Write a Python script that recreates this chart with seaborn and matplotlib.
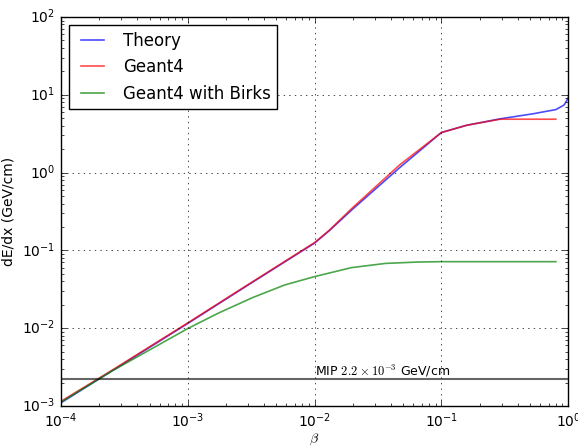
import numpy as np
import pandas as pd
import matplotlib
matplotlib.use("Agg")
import matplotlib.pyplot as plt
import seaborn as sns

# Werte (beta, dE/dx in GeV/cm)
theory_beta = [1e-4, 2.44e-4, 1e-3, 3e-3, 1e-2, 1.3e-2, 2e-2, 4.7e-2, 1e-1, 0.158, 0.29, 0.53, 0.8, 0.93, 0.977, 1.0]
theory_dedx = [1.1e-3, 2.73e-3, 1.15e-2, 3.6e-2, 0.124, 0.178, 0.34, 1.16, 3.27, 4.05, 4.9, 5.7, 6.45, 7.4, 8.5, 9.2]

geant_beta = [1e-4, 2.44e-4, 1e-3, 3e-3, 1e-2, 1.3e-2, 2e-2, 4.7e-2, 1e-1, 0.158, 0.29, 0.5, 0.8]
geant_dedx = [1.15e-3, 2.78e-3, 1.17e-2, 3.65e-2, 0.126, 0.18, 0.355, 1.26, 3.27, 4.05, 4.85, 4.85, 4.85]

birks_beta = [1e-4, 2.44e-4, 1e-3, 1.74e-3, 3.24e-3, 5.8e-3, 1e-2, 1.95e-2, 3.63e-2, 6.5e-2, 1e-1, 0.3, 0.8]
birks_dedx = [1.12e-3, 2.73e-3, 9.9e-3, 1.56e-2, 2.47e-2, 3.59e-2, 4.6e-2, 6.0e-2, 6.8e-2, 7.08e-2, 7.16e-2, 7.16e-2, 7.16e-2]

mip_value = 2.2e-3

plt.style.use("classic")
plt.rcParams["font.size"] = 10
plt.rcParams["savefig.facecolor"] = "white"

df = pd.concat([
    pd.DataFrame({"beta": theory_beta, "dedx": theory_dedx, "series": "Theory"}),
    pd.DataFrame({"beta": geant_beta, "dedx": geant_dedx, "series": "Geant4"}),
    pd.DataFrame({"beta": birks_beta, "dedx": birks_dedx, "series": "Geant4 with Birks"}),
])

fig = plt.figure(figsize=(5.78, 4.46), dpi=100, facecolor="white")
ax = fig.add_axes([0.1055, 0.0897, 0.8775, 0.8723])

sns.lineplot(data=df, x="beta", y="dedx", hue="series", sort=False,
             palette={"Theory": "b", "Geant4": "r", "Geant4 with Birks": "g"},
             alpha=0.7, linewidth=1.2, ax=ax)

ax.axhline(mip_value, color="k", alpha=0.6, linewidth=1.5)
ax.text(1e-2, mip_value * 1.12, r"MIP $2.2\times10^{-3}$ GeV/cm", fontsize=9)

ax.set_xscale("log")
ax.set_yscale("log")
ax.set_xlim(1e-4, 1)
ax.set_ylim(1e-3, 1e2)
ax.grid(True)
ax.set_xlabel(r"$\beta$", labelpad=1)
ax.set_ylabel("dE/dx (GeV/cm)")
ax.legend(loc="upper left", fontsize=12, title=None)

fig.savefig("out.png", dpi=100)
